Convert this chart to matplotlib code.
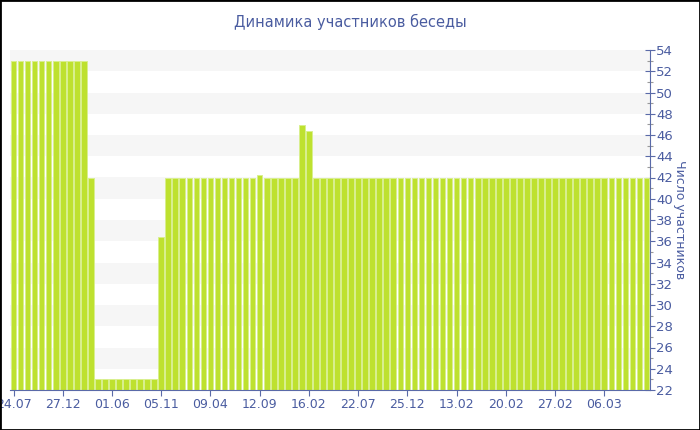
import matplotlib
matplotlib.use("Agg")
import matplotlib.pyplot as plt
from matplotlib.ticker import MultipleLocator
from matplotlib.patches import Rectangle

title = "Динамика участников беседы"
ylabel = "Число участников"

values = ([53] * 11 + [42] + [23] * 9 + [36.4] + [42] * 13 + [42.25] + [42] * 5
          + [46.95, 46.4] + [42] * 48)
tick_labels = ["24.07", "27.12", "01.06", "05.11", "09.04", "12.09", "16.02",
               "22.07", "25.12", "13.02", "20.02", "27.02", "06.03"]
tick_step = 7

text_color = "#4a5ca0"
axis_color = "#5a6aa8"
bar_color = "#bee12f"

fig = plt.figure(figsize=(7, 4.3), dpi=100)
fig.patch.set_facecolor("white")
fig.patches.append(Rectangle((0, 0), 1, 1, transform=fig.transFigure,
                             fill=False, edgecolor="black", linewidth=2, zorder=10))

ax = fig.add_axes([10 / 700, 1 - 390 / 430, 640 / 700, 340 / 430])
x = list(range(len(values)))
ax.set_xlim(-0.5, len(values) - 0.5)
ax.set_ylim(22, 54)

# alternating background bands
for lo in range(24, 54, 4):
    ax.axhspan(lo, lo + 2, color="#f6f6f6", zorder=0, linewidth=0)

ax.bar(x, [v - 22 for v in values], bottom=22, width=0.8, color=bar_color,
       edgecolor="#d8ef8e", linewidth=0.7, zorder=2)

for s in ["top", "left"]:
    ax.spines[s].set_visible(False)
ax.spines["bottom"].set_color(axis_color)
ax.spines["right"].set_color(axis_color)
ax.spines["bottom"].set_zorder(3)

ax.yaxis.tick_right()
ax.yaxis.set_label_position("right")
ax.yaxis.set_major_locator(MultipleLocator(2))
ax.yaxis.set_minor_locator(MultipleLocator(1))
ax.tick_params(axis="y", which="major", direction="inout", length=7, width=0.8,
               color=axis_color, labelcolor=text_color, labelsize=9.5, pad=1)
ax.tick_params(axis="y", which="minor", direction="inout", length=4, width=0.8,
               color="#9a9a9a")

ticks = list(range(0, len(values), tick_step))[:len(tick_labels)]
ax.set_xticks(ticks)
ax.set_xticklabels(tick_labels)
ax.tick_params(axis="x", which="major", direction="out", length=4, width=0.8,
               color=axis_color, labelcolor=text_color, labelsize=9, pad=2)

ax.set_ylabel(ylabel, rotation=-90, color=text_color, fontsize=9, labelpad=9)
fig.text(0.5, 1 - 22 / 430, title, ha="center", va="center",
         color=text_color, fontsize=10.5)

fig.savefig("out.png", dpi=100)
